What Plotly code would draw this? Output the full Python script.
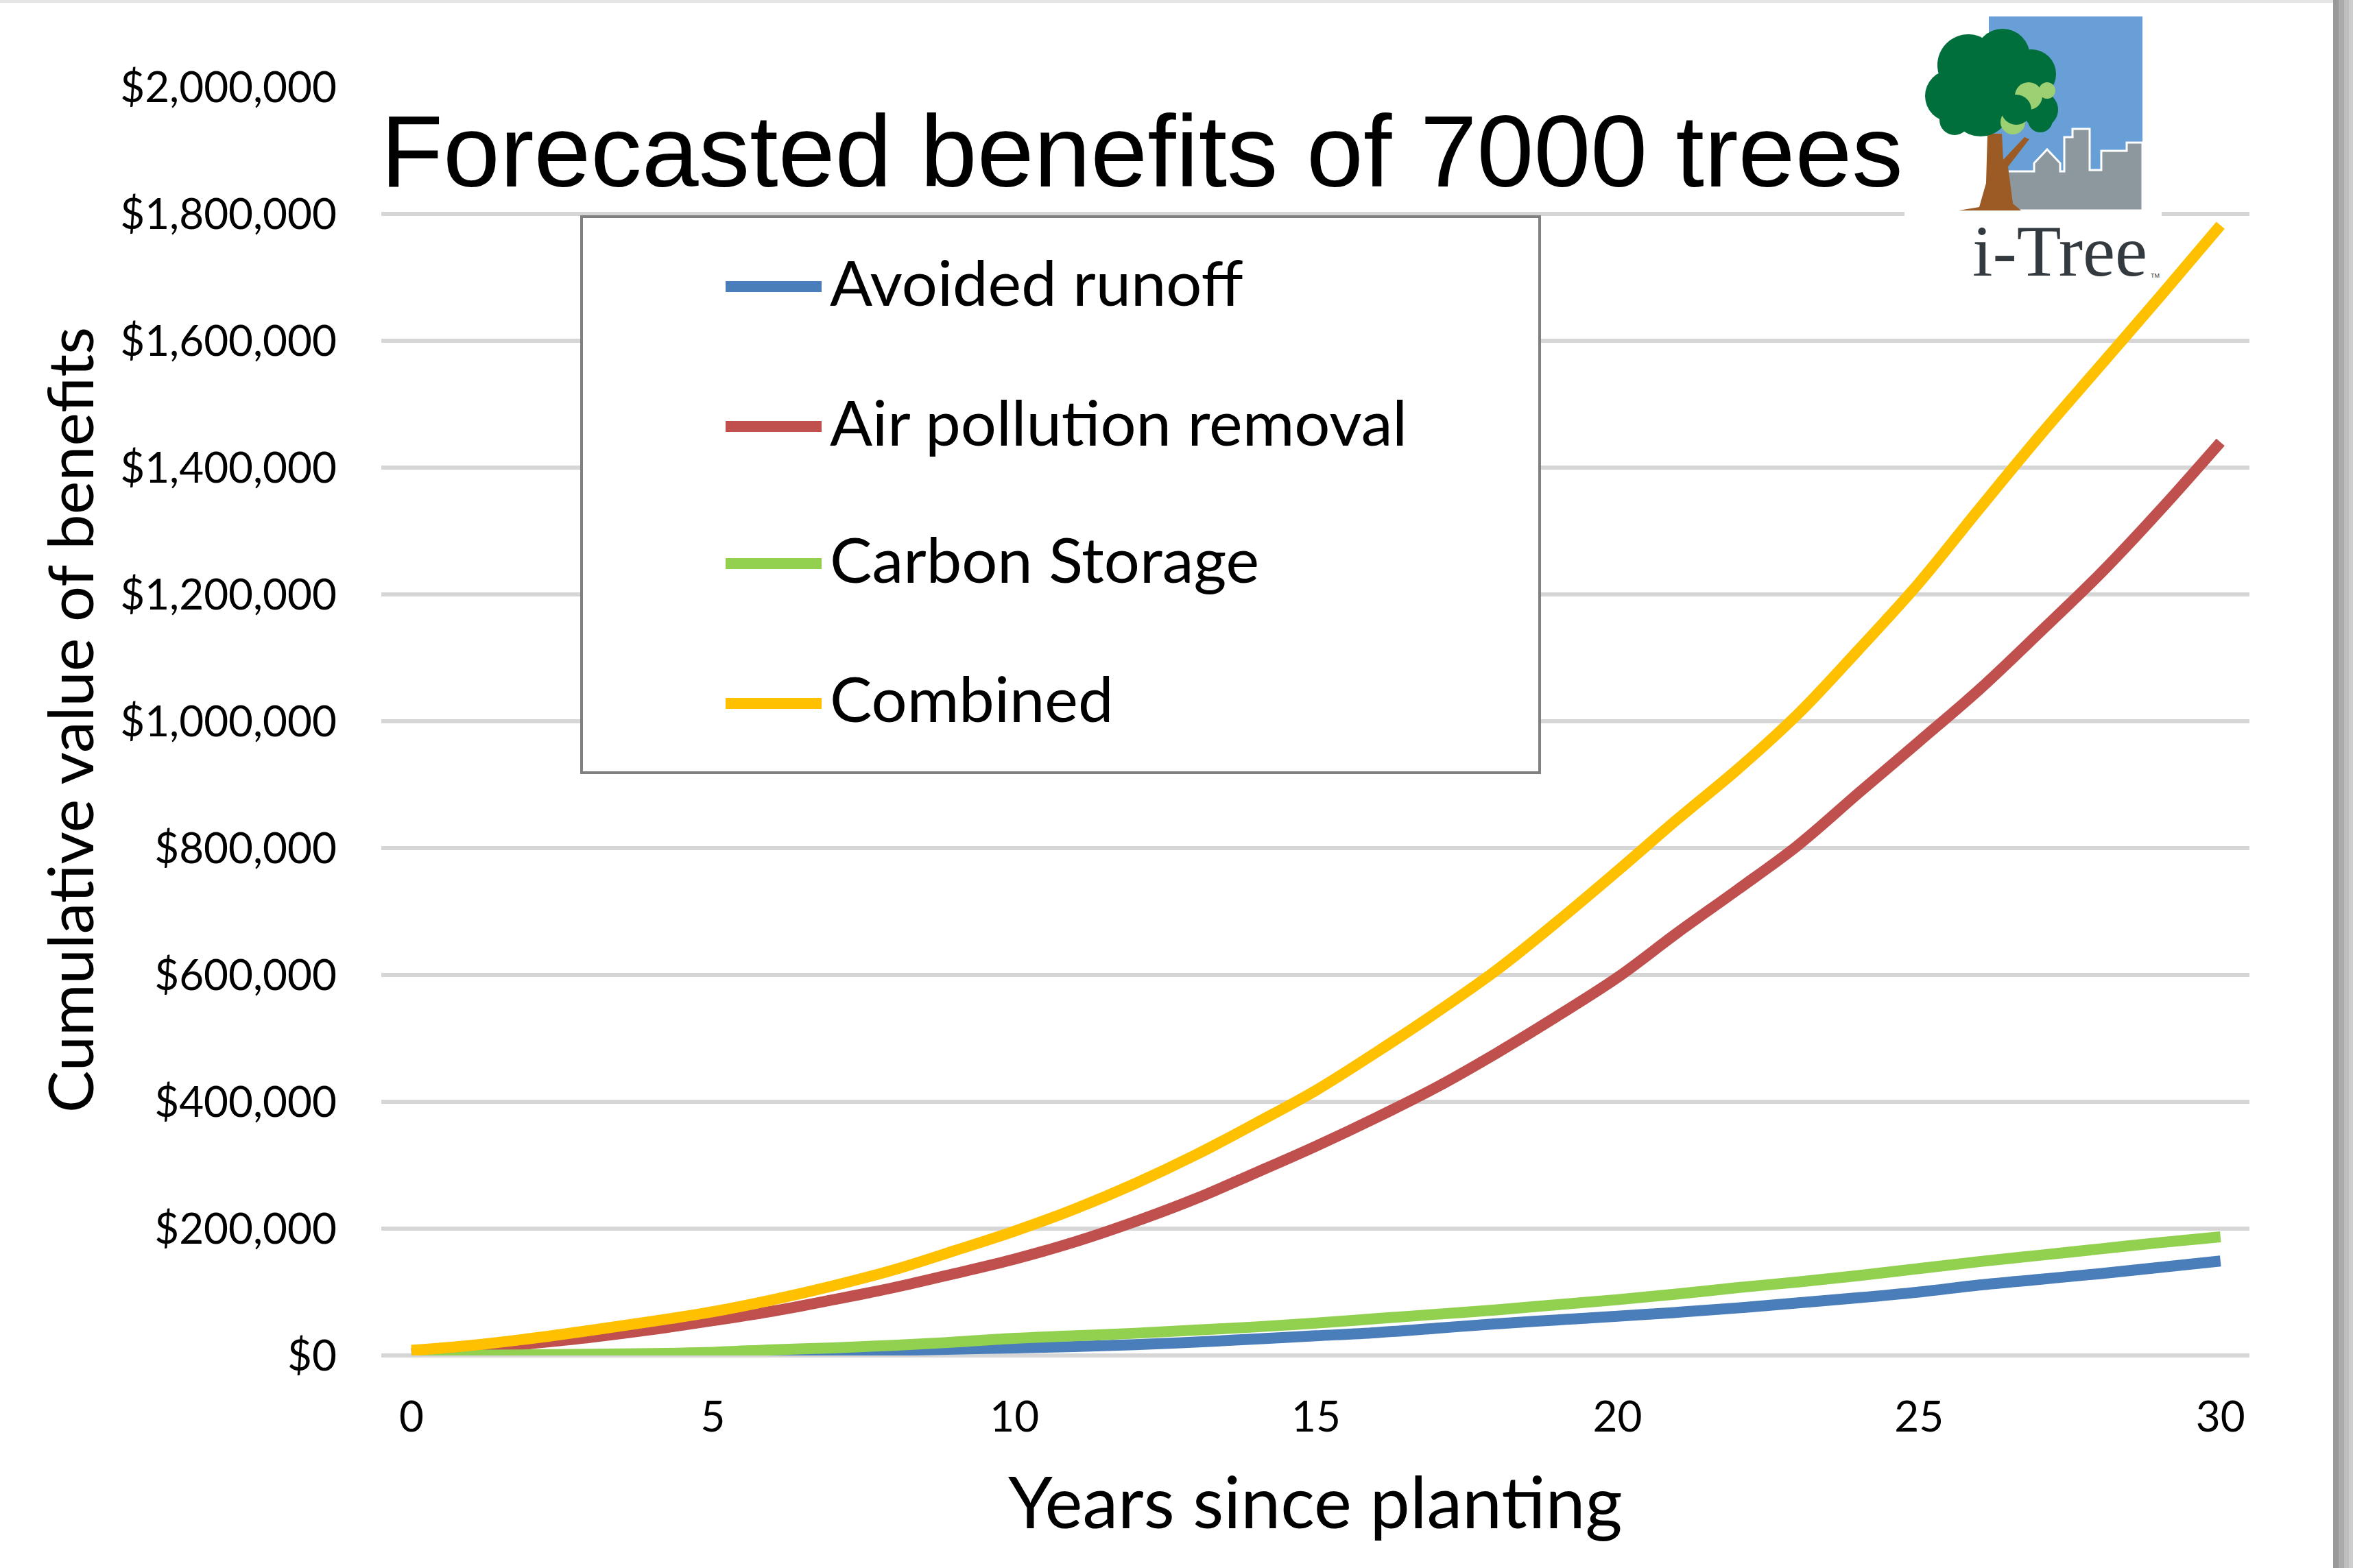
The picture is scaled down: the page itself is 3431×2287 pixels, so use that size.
import plotly.graph_objects as go

# ---------------- data ----------------
years = list(range(31))
avoided_runoff = [0, 0, 500, 1000, 2000, 3000, 4000, 6000, 8000, 10000, 12000, 14000, 17000, 21000, 26000, 31000,
                  36000, 43000, 50000, 56000, 62000, 68000, 75000, 83000, 91000, 100000, 111000, 120000, 129000,
                  139000, 149000]
air_pollution_removal = [3000, 10000, 19000, 29000, 41000, 55000, 70000, 88000, 107000, 129000, 152000, 179000,
                         211000, 247000, 288000, 330000, 375000, 423000, 477000, 535000, 596000, 667000, 735000,
                         805000, 887000, 968000, 1050000, 1140000, 1232000, 1333000, 1440000]
carbon_storage = [0, 500, 1000, 2000, 3000, 5000, 9000, 12000, 16000, 21000, 27000, 31000, 35000, 40000, 45000,
                  51000, 58000, 65000, 72000, 80000, 88000, 97000, 107000, 116000, 126000, 137000, 148000, 158000,
                  168000, 178000, 187000]
combined = [8000, 16000, 27000, 40000, 54000, 69000, 88000, 110000, 135000, 165000, 196000, 231000, 271000, 316000,
            366000, 418000, 478000, 541000, 608000, 684000, 764000, 846000, 925000, 1012000, 1113000, 1218000,
            1335000, 1450000, 1560000, 1670000, 1782000]

series_names = ["Avoided runoff", "Air pollution removal", "Carbon Storage", "Combined"]
series_values = [avoided_runoff, air_pollution_removal, carbon_storage, combined]
series_colors = ["#4A7EBB", "#C0504D", "#92D050", "#FFC000"]

x_tick_vals = [0, 5, 10, 15, 20, 25, 30]
x_tick_text = ["0", "5", "10", "15", "20", "25", "30"]
y_tick_vals = [0, 200000, 400000, 600000, 800000, 1000000, 1200000, 1400000, 1600000, 1800000, 2000000]
y_tick_text = ["$0", "$200,000", "$400,000", "$600,000", "$800,000", "$1,000,000", "$1,200,000",
               "$1,400,000", "$1,600,000", "$1,800,000", "$2,000,000"]

chart_title = "Forecasted benefits of 7000 trees"
x_title = "Years since planting"
y_title = "Cumulative value of benefits"

# ---------------- layout geometry ----------------
W, H = 3431, 2287
L, R, T, B = 556, 151, 127, 310
PW, PH = W - L - R, H - T - B


def px(x):
    return (x - L) / PW


def py(y):
    return (H - B - y) / PH


FONT = "Lato"

fig = go.Figure()
for name, vals, col in zip(series_names, series_values, series_colors):
    fig.add_trace(go.Scatter(x=years, y=vals, name=name, mode="lines",
                             line=dict(color=col, width=16, shape="spline", smoothing=1),
                             showlegend=False))

shapes = []
annotations = []

# legend box (manual)
shapes.append(dict(type="rect", xref="paper", yref="paper", x0=px(848), x1=px(2245), y0=py(316), y1=py(1127),
                   line=dict(color="#808080", width=4), fillcolor="white", layer="above"))
leg_y = [418, 622, 822, 1026]
for name, col, yy in zip(series_names, series_colors, leg_y):
    shapes.append(dict(type="line", xref="paper", yref="paper", x0=px(1058), x1=px(1198), y0=py(yy), y1=py(yy),
                       line=dict(color=col, width=16), layer="above"))
    annotations.append(dict(text=name, xref="paper", yref="paper", x=px(1208), y=py(yy - 8), xanchor="left",
                            yanchor="middle", showarrow=False, font=dict(family=FONT, size=92, color="#000000")))

# logo area (white backing hides gridlines)
shapes.append(dict(type="rect", xref="paper", yref="paper", x0=px(2777), x1=px(3152), y0=py(100), y1=py(415),
                   line=dict(width=0), fillcolor="white", layer="above"))
# sky
shapes.append(dict(type="rect", xref="paper", yref="paper", x0=px(2900), x1=px(3124), y0=py(24), y1=py(255),
                   line=dict(width=0), fillcolor="#689FD6", layer="above"))
# skyline
sky_pts = [(2919, 307), (2919, 250), (2966, 250), (2966, 238), (2985, 218), (3004, 238), (3004, 250), (3010, 250),
           (3010, 200), (3022, 200), (3022, 188), (3047, 188), (3047, 248), (3064, 248), (3064, 220), (3101, 220),
           (3101, 208), (3124, 208), (3124, 307)]
path = "M " + " L ".join(f"{px(a):.5f},{py(b):.5f}" for a, b in sky_pts) + " Z"
shapes.append(dict(type="path", xref="paper", yref="paper", path=path, fillcolor="#8D979E",
                   line=dict(color="white", width=3), layer="above"))
# trunk
trunk = [(2856, 307), (2886, 302), (2896, 267), (2898, 195), (2919, 195), (2921, 233), (2952, 200), (2959, 203),
         (2928, 243), (2935, 297), (2947, 307)]
path = "M " + " L ".join(f"{px(a):.5f},{py(b):.5f}" for a, b in trunk) + " Z"
shapes.append(dict(type="path", xref="paper", yref="paper", path=path, fillcolor="#9C5A24",
                   line=dict(width=0), layer="above"))
# canopy
canopy = [(2870, 95, 45), (2920, 82, 40), (2962, 108, 36), (2845, 140, 38), (2888, 155, 44), (2900, 118, 50),
          (2850, 175, 22), (2975, 160, 26)]
for cx, cy, r in canopy:
    shapes.append(dict(type="circle", xref="paper", yref="paper", x0=px(cx - r), x1=px(cx + r), y0=py(cy - r),
                       y1=py(cy + r), fillcolor="#006F3C", line=dict(width=0), layer="above"))
light = [(2958, 140, 20), (2935, 178, 18), (2985, 132, 12)]
for cx, cy, r in light:
    shapes.append(dict(type="circle", xref="paper", yref="paper", x0=px(cx - r), x1=px(cx + r), y0=py(cy - r),
                       y1=py(cy + r), fillcolor="#9DD072", line=dict(width=0), layer="above"))
dark2 = [(2940, 160, 22), (2975, 175, 18)]
for cx, cy, r in dark2:
    shapes.append(dict(type="circle", xref="paper", yref="paper", x0=px(cx - r), x1=px(cx + r), y0=py(cy - r),
                       y1=py(cy + r), fillcolor="#006F3C", line=dict(width=0), layer="above"))

annotations.append(dict(text="i-Tree", xref="paper", yref="paper", x=px(3003), y=py(366), xanchor="center",
                        yanchor="middle", showarrow=False,
                        font=dict(family="Liberation Serif", size=106, color="#343B40")))
annotations.append(dict(text="TM", xref="paper", yref="paper", x=px(3142), y=py(402), xanchor="center",
                        yanchor="middle", showarrow=False,
                        font=dict(family="Liberation Sans", size=9, color="#343B40")))

# window frame (right shadow + top line)
for x0, x1, c in [(3402, 3410, "#999999"), (3410, 3418, "#ABABAB"), (3418, 3425, "#BDBDBD"), (3425, 3431, "#CDCDCD")]:
    shapes.append(dict(type="rect", xref="paper", yref="paper", x0=px(x0), x1=px(x1), y0=py(0), y1=py(H),
                       line=dict(width=0), fillcolor=c, layer="above"))
shapes.append(dict(type="rect", xref="paper", yref="paper", x0=px(0), x1=px(3402), y0=py(0), y1=py(4),
                   line=dict(width=0), fillcolor="#E4E4E4", layer="above"))

# title and axis titles
annotations.append(dict(text=chart_title, xref="paper", yref="paper", x=px(553), y=py(220), xanchor="left",
                        yanchor="middle", showarrow=False,
                        font=dict(family="Liberation Sans", size=149, color="#000000")))
annotations.append(dict(text=x_title, xref="paper", yref="paper", x=px(1918), y=py(2188), xanchor="center",
                        yanchor="middle", showarrow=False, font=dict(family=FONT, size=104, color="#000000")))
annotations.append(dict(text=y_title, xref="paper", yref="paper", x=px(100), y=py(1050), xanchor="center",
                        yanchor="middle", textangle=-90, showarrow=False,
                        font=dict(family=FONT, size=92, color="#000000")))

fig.update_layout(
    width=W, height=H,
    margin=dict(l=L, r=R, t=T, b=B, autoexpand=False),
    paper_bgcolor="white", plot_bgcolor="white",
    shapes=shapes, annotations=annotations,
    showlegend=False,
    xaxis=dict(range=[-0.5, 30.48], tickvals=x_tick_vals, ticktext=x_tick_text, showgrid=False, zeroline=False,
               showline=False, ticks="", tickfont=dict(family=FONT, size=62, color="#000000"),
               ticklabelstandoff=48, automargin=False),
    yaxis=dict(range=[0, 2000000], tickvals=y_tick_vals, ticktext=y_tick_text, showgrid=True, gridcolor="#D6D6D6",
               gridwidth=6, zeroline=True, zerolinecolor="#D6D6D6", zerolinewidth=6, showline=False, ticks="",
               tickfont=dict(family=FONT, size=62, color="#000000"), ticklabelstandoff=64, automargin=False),
)

fig.write_html("out.html", config={"displayModeBar": False},
               post_script="document.body.style.margin='0';document.body.style.overflow='hidden';")
